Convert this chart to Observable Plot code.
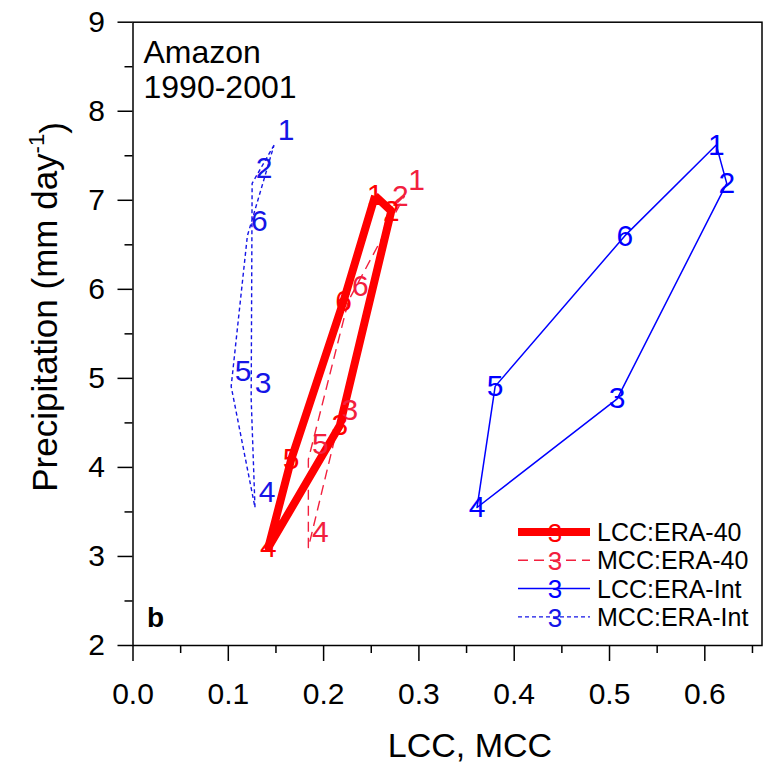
<!DOCTYPE html>
<html><head><meta charset="utf-8">
<script src="https://cdn.jsdelivr.net/npm/d3@7"></script>
<script src="https://cdn.jsdelivr.net/npm/@observablehq/plot@0.6"></script>
<style>body{margin:0;background:#fff} svg{display:block}</style>
</head><body><div id="chart"></div>
<script>
const months = [1, 2, 3, 4, 5, 6];
const precipEra40 = [7.05, 6.88, 4.47, 3.10, 4.09, 5.87];
const lccEra40 = [0.254, 0.271, 0.217, 0.142, 0.166, 0.221];
const mccEra40 = [0.285, 0.268, 0.215, 0.184, 0.184, 0.226];
const precipEraInt = [7.62, 7.19, 4.77, 3.55, 4.91, 6.60];
const lccEraInt = [0.612, 0.623, 0.508, 0.361, 0.380, 0.516];
const mccEraInt = [0.148, 0.125, 0.124, 0.128, 0.103, 0.120];
const xTicks = [0.0, 0.1, 0.2, 0.3, 0.4, 0.5, 0.6];
const xMinor = [0.05, 0.15, 0.25, 0.35, 0.45, 0.55, 0.65];
const yTicks = [2, 3, 4, 5, 6, 7, 8, 9];
const yMinor = [2.5, 3.5, 4.5, 5.5, 6.5, 7.5, 8.5];

const series = [
  {name: "MCC:ERA-Int", xs: mccEraInt, ys: precipEraInt, color: "#1515e6", width: 1.4, dash: "4,3", offset: true},
  {name: "LCC:ERA-Int", xs: lccEraInt, ys: precipEraInt, color: "#0000ff", width: 1.5, dash: null, offset: false},
  {name: "MCC:ERA-40", xs: mccEra40, ys: precipEra40, color: "#f2203e", width: 1.4, dash: "10,6", offset: true},
  {name: "LCC:ERA-40", xs: lccEra40, ys: precipEra40, color: "#ff0000", width: 8, dash: null, offset: false}
];

const font = "'Liberation Sans', Arial, sans-serif";
const marks = [];
for (const s of series) {
  const rows = months.map((m, i) => ({month: m, x: s.xs[i], y: s.ys[i]}));
  const loop = [...rows, rows[0]];
  marks.push(Plot.line(loop, {x: "x", y: "y", stroke: s.color, strokeWidth: s.width,
    strokeDasharray: s.dash, strokeLinejoin: "round", strokeLinecap: "butt"}));
}
for (const s of series) {
  const rows = months.map((m, i) => ({month: m, x: s.xs[i], y: s.ys[i]}));
  marks.push(Plot.text(rows, {x: "x", y: "y", text: d => String(d.month), fill: s.color,
    fontSize: 30, dx: s.offset ? 12 : 0, dy: s.offset ? -15 : 0}));
}

const chart = Plot.plot({
  width: 770, height: 769,
  marginLeft: 132.5, marginRight: 8.5, marginTop: 21.7, marginBottom: 124,
  style: {fontFamily: font, background: "white", color: "black"},
  x: {domain: [0, 0.66]},
  y: {domain: [2, 9]},
  marks: [
    Plot.axisX(xTicks, {tickSize: 16, tickPadding: 21, tickFormat: d3.format(".1f"), fontSize: 30, label: null, strokeWidth: 1.5}),
    Plot.axisX(xMinor, {tickSize: 8, tickFormat: () => "", label: null, strokeWidth: 1.5}),
    Plot.axisY(yTicks, {tickSize: 15, tickPadding: 13, tickFormat: d3.format("d"), fontSize: 30, label: null, strokeWidth: 1.5}),
    Plot.axisY(yMinor, {tickSize: 8, tickFormat: () => "", label: null, strokeWidth: 1.5}),
    ...marks,
    Plot.frame({stroke: "black", strokeWidth: 1.5}),
    Plot.text(["Amazon\n1990-2001"], {frameAnchor: "top-left", textAnchor: "start", lineAnchor: "top",
      dx: 10.5, dy: 16, fontSize: 32, lineHeight: 1.1}),
    Plot.text(["b"], {frameAnchor: "bottom-left", textAnchor: "start", lineAnchor: "bottom",
      dx: 14, dy: -19, fontSize: 28, fontWeight: "bold"})
  ]
});
document.getElementById("chart").appendChild(chart);

const svg = d3.select(chart);
// axis titles
const yt = svg.append("text").attr("transform", "translate(45,307) rotate(-90)")
  .attr("text-anchor", "middle").attr("dy", "0.35em")
  .attr("font-family", font).attr("font-size", 35).attr("fill", "black");
yt.append("tspan").text("Precipitation (mm day");
yt.append("tspan").attr("dy", "-0.6em").attr("font-size", 22).text("-1");
yt.append("tspan").attr("dy", "0.6em").text(")");
svg.append("text").attr("x", 470).attr("y", 745).attr("dy", "0.35em")
  .attr("text-anchor", "middle").attr("font-family", font).attr("font-size", 34)
  .attr("fill", "black").text("LCC, MCC");

// legend
const legendOrder = ["LCC:ERA-40", "MCC:ERA-40", "LCC:ERA-Int", "MCC:ERA-Int"];
const lg = svg.append("g").attr("font-family", font);
legendOrder.forEach((name, i) => {
  const s = series.find(d => d.name === name);
  const y = 532 + i * 28.3;
  lg.append("line").attr("x1", 518).attr("x2", 590).attr("y1", y).attr("y2", y)
    .attr("stroke", s.color).attr("stroke-width", s.width)
    .attr("stroke-dasharray", s.dash);
  lg.append("text").attr("x", 555).attr("y", y).attr("dy", "0.38em")
    .attr("text-anchor", "middle").attr("font-size", 26).attr("fill", s.color).text("3");
  lg.append("text").attr("x", 597).attr("y", y).attr("dy", "0.36em")
    .attr("text-anchor", "start").attr("font-size", 25).attr("fill", "black").text(name);
});
</script>
</body></html>
